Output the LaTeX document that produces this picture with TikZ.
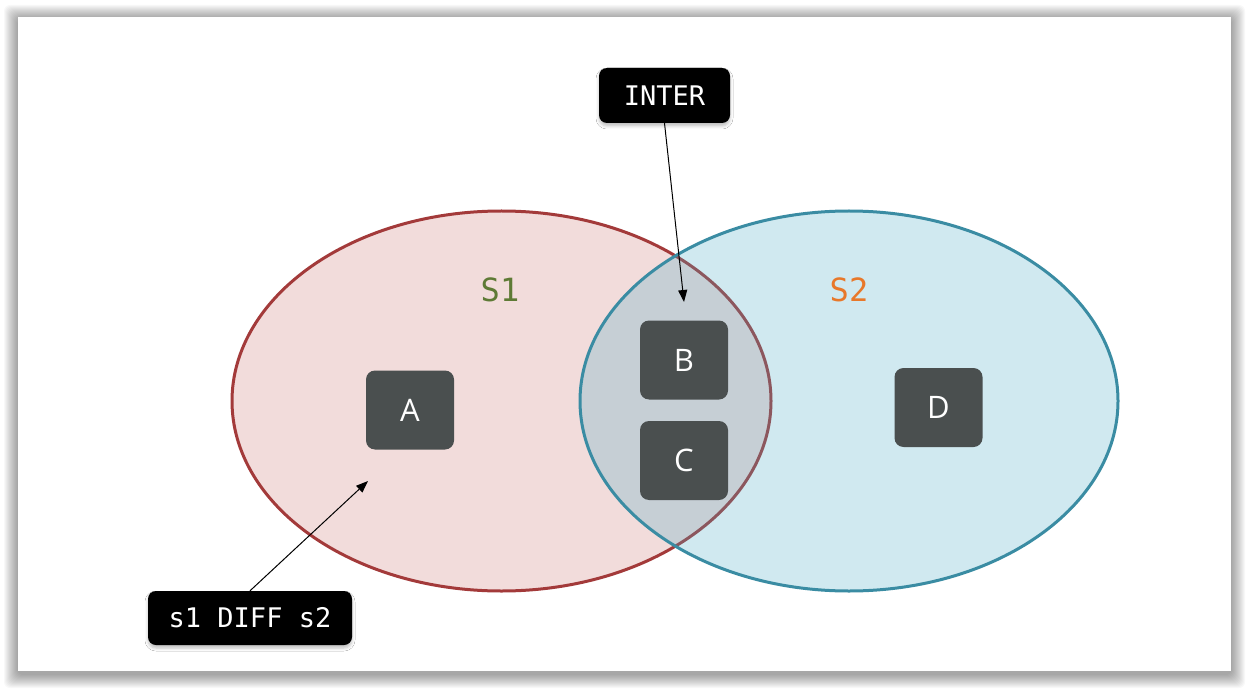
\documentclass[tikz,border=0pt]{standalone}
\usepackage{fontspec}
\usetikzlibrary{shapes.geometric,arrows.meta,shadows.blur}
\newfontfamily\boxfont{Open Sans}
\newfontfamily\codefont{DejaVu Sans Mono}
\definecolor{setred}{RGB}{192,80,77}
\definecolor{setredline}{RGB}{163,58,58}
\definecolor{setblue}{RGB}{75,172,198}
\definecolor{setblueline}{RGB}{58,140,163}
\definecolor{boxgray}{RGB}{74,79,79}
\definecolor{sonegreen}{RGB}{94,122,53}
\definecolor{stwoorange}{RGB}{232,120,42}
\tikzset{
  frame/.style={draw=none, fill=white, minimum width=1213pt, minimum height=654pt, inner sep=0pt},
  shadowlayer/.style={fill=black, fill opacity=0.028, draw=none, rounded corners=6pt},
  setone/.style={ellipse, draw=setredline, line width=3pt, fill=setred, fill opacity=0.2, draw opacity=1,
    minimum width=539pt, minimum height=380pt, inner sep=0pt},
  settwo/.style={ellipse, draw=setblueline, line width=3pt, fill=setblue, fill opacity=0.26, draw opacity=1,
    minimum width=538pt, minimum height=380pt, inner sep=0pt},
  elem/.style={rectangle, rounded corners=9pt, fill=boxgray, text=white, font=\boxfont\fontsize{31}{36}\selectfont,
    minimum width=88pt, minimum height=79pt, inner sep=0pt},
  tag/.style={rectangle, rounded corners=8pt, fill=black, text=white, font=\codefont\fontsize{27}{32}\selectfont,
    inner sep=0pt, blur shadow={shadow xshift=0pt, shadow yshift=-3pt, shadow blur radius=3pt, shadow opacity=25}},
  setlabel/.style={font=\codefont\fontsize{32}{38}\selectfont, inner sep=0pt},
  arr/.style={draw=black, line width=1pt, -{Triangle[length=12pt,width=9pt]}}
}
\begin{document}
\begin{tikzpicture}[x=1pt,y=-1pt]
\useasboundingbox (0,0) rectangle (1246,692);
\fill[white] (0,0) rectangle (1246,692);
\foreach \i in {1,...,14} {
  \fill[shadowlayer] (18-\i,19-\i) rectangle (1231+\i,674+\i);
}
\node[frame] (frame) at (624.5,344) {};
\node[setone] (s1) at (501.5,401) {};
\node[settwo] (s2) at (849,401) {};
\node[setlabel, text=sonegreen] (s1label) at (500,290) {S1};
\node[setlabel, text=stwoorange] (s2label) at (849,290) {S2};
\node[elem] (A) at (410,410) {A};
\node[elem] (B) at (684,360) {B};
\node[elem] (C) at (684,460.5) {C};
\node[elem] (D) at (938.5,407.5) {D};
\node[tag, minimum width=131pt, minimum height=55pt] (inter) at (664.5,95.5) {INTER};
\node[tag, minimum width=204pt, minimum height=54pt] (diff) at (250,618) {s1 DIFF s2};
\coordinate (intertip) at (684,302);
\coordinate (difftip) at (368,481);
\draw[arr] (inter.south) -- (intertip);
\draw[arr] (diff.north) -- (difftip);
\end{tikzpicture}
\end{document}
